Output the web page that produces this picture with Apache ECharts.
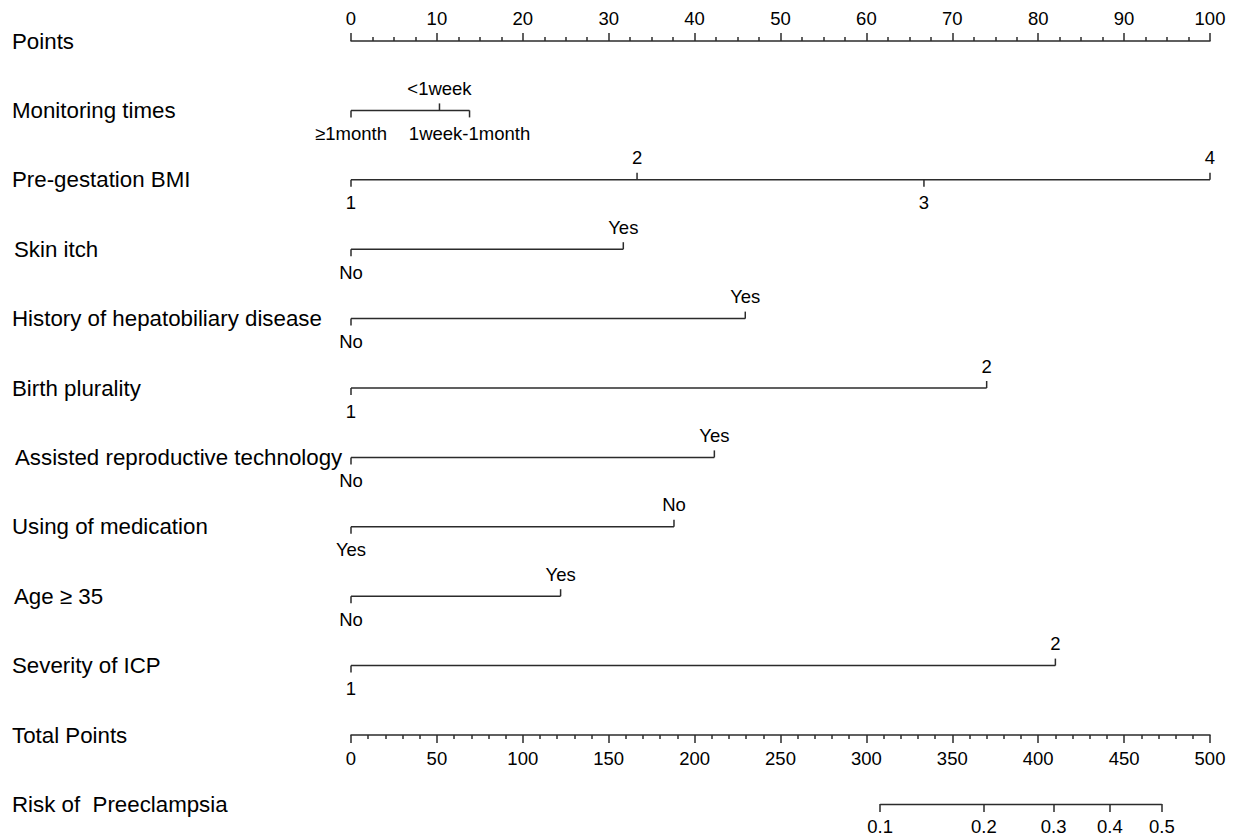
<!DOCTYPE html>
<html>
<head>
<meta charset="utf-8">
<script src="https://cdn.jsdelivr.net/npm/echarts@6/dist/echarts.min.js"></script>
<style>
html,body{margin:0;padding:0;background:#fff;}
#chart{width:1237px;height:839px;}
</style>
</head>
<body>
<div id="chart"></div>
<script>
// ---------- DATA ----------
const rowNames = ['Points', 'Monitoring times', 'Pre-gestation BMI', 'Skin itch',
  'History of hepatobiliary disease', 'Birth plurality', 'Assisted reproductive technology',
  'Using of medication', 'Age \u2265 35', 'Severity of ICP', 'Total Points', 'Risk of  Preeclampsia'];

const variableLevels = [
  ['\u22651month', '<1week', '1week-1month'],
  ['1', '2', '3', '4'],
  ['No', 'Yes'],
  ['No', 'Yes'],
  ['1', '2'],
  ['No', 'Yes'],
  ['Yes', 'No'],
  ['No', 'Yes'],
  ['1', '2']
];
const variablePoints = [
  [0, 10.3, 13.8],
  [0, 33.3, 66.7, 100],
  [0, 31.7],
  [0, 45.9],
  [0, 74.0],
  [0, 42.3],
  [0, 37.6],
  [0, 24.4],
  [0, 82.0]
];

const pointsMin = 0, pointsMax = 100, pointsStep = 10;
const totalMin = 0, totalMax = 500, totalStep = 50;
const riskValues = [0.1, 0.2, 0.3, 0.4, 0.5];
const riskTotalPoints = [308, 368.4, 409, 441.7, 472];

// ---------- LAYOUT / STYLE ----------
const FONT = 'Liberation Sans, Arial, Helvetica, sans-serif';
const LINE = '#2b2b2b';
const LW = 1.5;
const TICKFS = 18.5;
const rowLabelIndent = [0, 0, 0, 2, 0, 0, 3, 0, 2, 0, 0, 0];

// Build data for custom series
const segData = variablePoints.map((pts, i) => [Math.min(...pts), Math.max(...pts), i + 1]);
const tickData = [];
variablePoints.forEach((pts, i) => {
  const order = pts.map((p, k) => k).sort((a, b) => pts[a] - pts[b]);
  order.forEach((k, rank) => {
    tickData.push({ value: [pts[k], i + 1], label: variableLevels[i][k], side: rank % 2 === 0 ? 1 : -1 });
  });
});

const chart = echarts.init(document.getElementById('chart'), null, { renderer: 'svg' });

const axisCommon = {
  type: 'value',
  gridIndex: 0,
  splitLine: { show: false },
  minorSplitLine: { show: false },
  axisLine: { show: true, lineStyle: { color: LINE, width: LW } },
  axisTick: { show: true, inside: false, length: 8, lineStyle: { color: LINE, width: LW } },
  axisLabel: { color: '#000', fontFamily: FONT, fontSize: TICKFS }
};

const option = {
  animation: false,
  backgroundColor: '#fff',
  grid: { left: 351, right: 27, top: 41, bottom: 104, containLabel: false },
  xAxis: [
    Object.assign({}, axisCommon, {
      position: 'top', min: pointsMin, max: pointsMax, interval: pointsStep,
      minorTick: { show: true, splitNumber: 4, length: 4, lineStyle: { color: LINE, width: LW } },
      axisLabel: Object.assign({}, axisCommon.axisLabel, { margin: 13 })
    }),
    Object.assign({}, axisCommon, {
      position: 'bottom', min: totalMin, max: totalMax, interval: totalStep,
      minorTick: { show: true, splitNumber: 5, length: 4, lineStyle: { color: LINE, width: LW } },
      axisLabel: Object.assign({}, axisCommon.axisLabel, { margin: 14 })
    }),
    Object.assign({}, axisCommon, {
      position: 'bottom', offset: 69, min: totalMin, max: totalMax,
      axisLine: { show: false },
      axisTick: { show: true, length: 8, customValues: riskTotalPoints, lineStyle: { color: LINE, width: LW } },
      axisLabel: Object.assign({}, axisCommon.axisLabel, {
        margin: 13, customValues: riskTotalPoints,
        formatter: function (v) {
          let best = 0;
          riskTotalPoints.forEach((p, i) => { if (Math.abs(p - v) < Math.abs(riskTotalPoints[best] - v)) best = i; });
          return String(riskValues[best]);
        }
      })
    })
  ],
  yAxis: [{ type: 'value', gridIndex: 0, min: 0, max: 10, inverse: true, show: false }],
  series: [
    {
      type: 'custom', name: 'rowLabels', xAxisIndex: 0, yAxisIndex: 0, clip: false,
      data: rowNames.map((n, i) => [0, i]),
      renderItem: function (params, api) {
        const i = params.dataIndex;
        const y = api.coord([0, api.value(1)])[1];
        return {
          type: 'text',
          style: {
            x: 12 + rowLabelIndent[i], y: y, text: rowNames[i],
            fill: '#000', font: '22.3px ' + FONT, textAlign: 'left', textVerticalAlign: 'middle'
          }
        };
      }
    },
    {
      type: 'custom', name: 'segments', xAxisIndex: 0, yAxisIndex: 0, clip: false,
      data: segData,
      encode: { x: [0, 1], y: 2 },
      renderItem: function (params, api) {
        const a = api.coord([api.value(0), api.value(2)]);
        const b = api.coord([api.value(1), api.value(2)]);
        return {
          type: 'line',
          shape: { x1: a[0], y1: a[1], x2: b[0], y2: b[1] },
          style: { stroke: LINE, lineWidth: LW }
        };
      }
    },
    {
      type: 'custom', name: 'levels', xAxisIndex: 0, yAxisIndex: 0, clip: false,
      data: tickData,
      renderItem: function (params, api) {
        const d = tickData[params.dataIndex];
        const p = api.coord([api.value(0), api.value(1)]);
        const s = d.side;
        return {
          type: 'group',
          children: [
            { type: 'line', shape: { x1: p[0], y1: p[1], x2: p[0], y2: p[1] + s * 7 },
              style: { stroke: LINE, lineWidth: LW } },
            { type: 'text', style: { x: p[0], y: p[1] + s * (s > 0 ? 23 : 22), text: d.label,
              fill: '#000', font: TICKFS + 'px ' + FONT, textAlign: 'center', textVerticalAlign: 'middle' } }
          ]
        };
      }
    },
    {
      type: 'line', name: 'risk', xAxisIndex: 2, yAxisIndex: 0, clip: false,
      symbol: 'none', silent: true,
      lineStyle: { color: LINE, width: LW },
      data: [[riskTotalPoints[0], 11], [riskTotalPoints[riskTotalPoints.length - 1], 11]]
    }
  ]
};
chart.setOption(option);
</script>
</body>
</html>
